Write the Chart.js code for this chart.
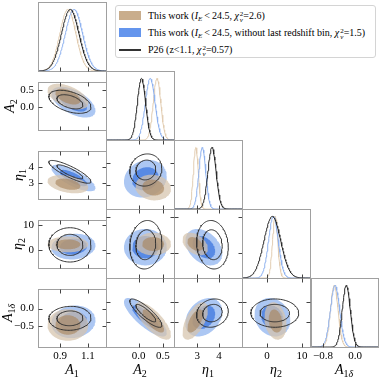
<!DOCTYPE html>
<html><head><meta charset="utf-8">
<script src="https://cdn.jsdelivr.net/npm/chart.js@4/dist/chart.umd.min.js"></script>
<style>
html,body{margin:0;padding:0;background:#fff;}
#wrap{position:relative;width:381px;height:380px;overflow:hidden;font-family:"Liberation Serif","Times New Roman",serif;color:#000;}
#wrap canvas{position:absolute;}
.lab{position:absolute;font-size:14px;white-space:nowrap;line-height:1;}
.lab i{font-style:italic;}
.lab sub{font-size:10px;vertical-align:-3px;line-height:0;}
.bt{transform:translate(-50%,-50%);}
.lt{transform:translate(-50%,-50%) rotate(-90deg);}
#leg{position:absolute;left:115px;top:5px;width:261px;height:53px;border:1px solid #d4d4d4;border-radius:3px;background:#fff;box-sizing:border-box;font-size:10px;}
#leg .row{position:absolute;left:0;height:14px;width:100%;}
#leg .sw{position:absolute;left:3px;top:2px;width:22px;height:9px;}
#leg .ln{position:absolute;left:3px;top:6px;width:22px;height:2px;background:#333;}
#leg .tx{position:absolute;left:32px;top:0;white-space:nowrap;line-height:14px;}
#leg sub{font-size:7px;vertical-align:-2px;line-height:0;}
.ss{display:inline-flex;flex-direction:column;vertical-align:middle;font-size:7px;line-height:6px;margin-left:1px;}
</style></head>
<body>
<div id="wrap">
  <div id="leg">
    <div class="row" style="top:3px"><span class="sw" style="background:#c9ad8c"></span><span class="tx">This work (<i>I</i><sub><i>E</i></sub>&thinsp;&lt;&thinsp;24.5, <i>χ</i><span class="ss"><span>2</span><span><i>ν</i></span></span>=2.6)</span></div>
    <div class="row" style="top:20px"><span class="sw" style="background:#6495ed"></span><span class="tx">This work (<i>I</i><sub><i>E</i></sub>&thinsp;&lt;&thinsp;24.5, without last redshift bin, <i>χ</i><span class="ss"><span>2</span><span><i>ν</i></span></span>=1.5)</span></div>
    <div class="row" style="top:37px"><span class="ln"></span><span class="tx">P26 (z&lt;1.1, <i>χ</i><span class="ss"><span>2</span><span><i>ν</i></span></span>=0.57)</span></div>
  </div>
</div>
<script>
// ---------------- data ----------------
// parameter order: A1, A2, eta1, eta2, A1delta
const paramLabels = ['<i>A</i><sub>1</sub>','<i>A</i><sub>2</sub>','<i>η</i><sub>1</sub>','<i>η</i><sub>2</sub>','<i>A</i><sub>1<i>δ</i></sub>'];
const axisMin = [0.74, -0.67, 1.92, -7.2, -1.1];
const axisMax = [1.23, 0.73, 5.07, 12.3, 0.57];
const xTickValues = [[0.9, 1.1], [0.0, 0.5], [3, 4], [0, 10], [-0.8, 0.0]];
const yTickValues = [[0.9, 1.1], [0.0, 0.5], [3, 4], [0, 10], [0.0, -0.5]];

// 1D marginals: peak position and width per parameter
const tanPeak   = [0.955, 0.38, 2.93, 2.3, -0.52];
const tanWidth  = [0.058, 0.078, 0.115, 0.75, 0.095];
const bluePeak  = [0.999, 0.24, 3.23, 1.8, -0.50];
const blueWidth = [0.062, 0.10, 0.16, 1.4, 0.115];
const blackPeak = [0.972, 0.06, 3.68, 1.5, -0.22];
const blackWidth= [0.063, 0.085, 0.19, 2.4, 0.10];

// 2D contours: centre, spread per parameter, correlation per pair
// pair order: (A1,A2) (A1,eta1) (A1,eta2) (A1,A1d) (A2,eta1) (A2,eta2) (A2,A1d) (eta1,eta2) (eta1,A1d) (eta2,A1d)
const tanCentre   = [0.955, 0.30, 2.90, 2.4, -0.47];
const tanSpread   = [0.060, 0.15, 0.24, 1.3, 0.185];
const tanCorr     = [-0.5, -0.35, 0.0, 0.0, -0.1, 0.0, -0.75, -0.4, 0.6, -0.2];
const blueCentre  = [0.995, 0.14, 3.30, 1.5, -0.38];
const blueSpread  = [0.065, 0.18, 0.35, 2.1, 0.19];
const blueCorr    = [-0.55, -0.75, 0.1, 0.1, 0.15, 0.0, -0.8, -0.35, 0.3, -0.15];
const blackCentre = [0.970, 0.15, 3.70, 2.2, -0.28];
const blackSpread = [0.062, 0.135, 0.30, 2.8, 0.14];
const blackCorr   = [-0.45, -0.85, 0.0, 0.05, 0.1, 0.1, -0.85, -0.1, 0.15, 0.0];

// ---------------- layout ----------------
const X0 = 38, Y0 = 2, PW = 68, PH = 69, LEFTW = 38, BOTH = 34;
const R68 = 1.509, R95 = 2.448;
const wrap = document.getElementById('wrap');

function tickText(v, p) {
  let s = (p === 2 || p === 3) ? String(Math.round(v)) : Math.abs(v).toFixed(1);
  if (v < -1e-9) s = '\u2212' + s;
  return s;
}
function pairIndex(a, b) {
  const pairs = [[0,1],[0,2],[0,3],[0,4],[1,2],[1,3],[1,4],[2,3],[2,4],[3,4]];
  return pairs.findIndex(q => q[0] === a && q[1] === b);
}
function ellipse(c, s, rho, xp, yp, r) {
  const pts = [];
  const N = 90;
  for (let k = 0; k <= N; k++) {
    const t = 2 * Math.PI * k / N;
    pts.push({x: c[xp] + r * s[xp] * Math.cos(t),
              y: c[yp] + r * s[yp] * (rho * Math.cos(t) + Math.sqrt(1 - rho * rho) * Math.sin(t))});
  }
  return pts;
}
function curve(p, peak, width) {
  const pts = [];
  const N = 160;
  for (let k = 0; k <= N; k++) {
    const x = axisMin[p] + (axisMax[p] - axisMin[p]) * k / N;
    pts.push({x, y: Math.exp(-0.5 * Math.pow((x - peak[p]) / width[p], 2))});
  }
  return pts;
}

const framePlugin = {
  id: 'frame',
  afterDraw(chart, args, opts) {
    const {ctx, chartArea: a, scales} = chart;
    ctx.save();
    const l = Math.round(a.left) + 0.5, t = Math.round(a.top) + 0.5;
    const r = Math.round(a.right) + 0.5, b = Math.round(a.bottom) + 0.5;
    ctx.strokeStyle = '#a0a0a0';
    ctx.lineWidth = 1;
    ctx.strokeRect(l, t, r - l, b - t);
    ctx.strokeStyle = '#444';
    ctx.beginPath();
    const L = 4;
    opts.xt.forEach(v => {
      const px = Math.round(scales.x.getPixelForValue(v)) + 0.5;
      ctx.moveTo(px, b); ctx.lineTo(px, b - L);
      if (!opts.diag) { ctx.moveTo(px, t); ctx.lineTo(px, t + L); }
    });
    if (!opts.diag) {
      opts.yt.forEach(v => {
        const py = Math.round(scales.y.getPixelForValue(v)) + 0.5;
        ctx.moveTo(l, py); ctx.lineTo(l + L, py);
        ctx.moveTo(r, py); ctx.lineTo(r - L, py);
      });
    }
    ctx.stroke();
    ctx.restore();
  }
};

const tickFont = {family: 'Liberation Serif', size: 11};

function makePanel(i, j) {
  const isLeft = (j === 0 && i > 0);
  const isBottom = (i === 4);
  const diag = (i === j);
  const w = (isLeft ? LEFTW : 0) + PW + 1;
  const h = PH + (isBottom ? BOTH : 1);
  const cv = document.createElement('canvas');
  cv.width = w; cv.height = h;
  cv.style.width = w + 'px'; cv.style.height = h + 'px';
  cv.style.left = (X0 + j * PW - (isLeft ? LEFTW : 0)) + 'px';
  cv.style.top = (Y0 + i * PH) + 'px';
  wrap.appendChild(cv);

  const xp = j, yp = i;
  const datasets = [];
  if (diag) {
    datasets.push({data: curve(xp, blackPeak, blackWidth), borderColor: '#2a2a2a', borderWidth: 1, order: 0});
    datasets.push({data: curve(xp, bluePeak, blueWidth), borderColor: '#8fb2ef', borderWidth: 1, order: 1});
    datasets.push({data: curve(xp, tanPeak, tanWidth), borderColor: '#e2cdb2', borderWidth: 1, order: 2});
  } else {
    const pi = pairIndex(xp, yp);
    datasets.push({data: ellipse(blackCentre, blackSpread, blackCorr[pi], xp, yp, R68), borderColor: '#333', borderWidth: 1, fill: false, order: 0});
    datasets.push({data: ellipse(blackCentre, blackSpread, blackCorr[pi], xp, yp, R95), borderColor: '#333', borderWidth: 1, fill: false, order: 1});
    datasets.push({data: ellipse(tanCentre, tanSpread, tanCorr[pi], xp, yp, R68), borderWidth: 0, borderColor: 'rgba(0,0,0,0)', backgroundColor: 'rgba(168,132,92,0.62)', fill: 'shape', order: 2});
    datasets.push({data: ellipse(tanCentre, tanSpread, tanCorr[pi], xp, yp, R95), borderWidth: 0, borderColor: 'rgba(0,0,0,0)', backgroundColor: 'rgba(214,196,172,0.72)', fill: 'shape', order: 3});
    datasets.push({data: ellipse(blueCentre, blueSpread, blueCorr[pi], xp, yp, R68), borderWidth: 0, borderColor: 'rgba(0,0,0,0)', backgroundColor: 'rgb(88,138,228)', fill: 'shape', order: 4});
    datasets.push({data: ellipse(blueCentre, blueSpread, blueCorr[pi], xp, yp, R95), borderWidth: 0, borderColor: 'rgba(0,0,0,0)', backgroundColor: 'rgb(172,199,243)', fill: 'shape', order: 5});
  }
  datasets.forEach(d => { d.showLine = true; d.pointRadius = 0; d.tension = 0; });

  const xScale = {
    type: 'linear', min: axisMin[xp], max: axisMax[xp], display: isBottom,
    grid: {display: false, drawTicks: false}, border: {display: false},
    afterBuildTicks: s => { s.ticks = xTickValues[xp].map(v => ({value: v})); },
    afterFit: s => { s.height = isBottom ? BOTH : 0; },
    ticks: {autoSkip: false, maxRotation: 0, padding: 3, color: '#000', font: tickFont, callback: v => tickText(v, xp)}
  };
  const yScale = diag ? {type: 'linear', min: 0, max: 1.12, display: false} : {
    type: 'linear', min: axisMin[yp], max: axisMax[yp], display: isLeft,
    grid: {display: false, drawTicks: false}, border: {display: false},
    afterBuildTicks: s => { s.ticks = yTickValues[yp].map(v => ({value: v})); },
    afterFit: s => { s.width = isLeft ? LEFTW : 0; },
    ticks: {autoSkip: false, padding: 4, color: '#000', font: tickFont, callback: v => tickText(v, yp)}
  };

  new Chart(cv, {
    type: 'scatter',
    data: {datasets},
    options: {
      responsive: false, maintainAspectRatio: false, animation: false, devicePixelRatio: 1, events: [],
      layout: {padding: {left: 0, top: 0, right: 1, bottom: isBottom ? 0 : 1}},
      scales: {x: xScale, y: yScale},
      plugins: {legend: {display: false}, tooltip: {enabled: false}, frame: {xt: xTickValues[xp], yt: diag ? [] : yTickValues[yp], diag}}
    },
    plugins: [framePlugin]
  });
}

for (let i = 0; i < 5; i++) for (let j = 0; j <= i; j++) makePanel(i, j);

// axis titles
const bottomY = 370;
for (let p = 0; p < 5; p++) {
  const d = document.createElement('div');
  d.className = 'lab bt';
  d.style.left = (X0 + p * PW + PW / 2) + 'px';
  d.style.top = bottomY + 'px';
  d.innerHTML = paramLabels[p];
  wrap.appendChild(d);
}
const leftX = [0, 10, 19, 18, 8];
for (let p = 1; p < 5; p++) {
  const d = document.createElement('div');
  d.className = 'lab lt';
  d.style.left = leftX[p] + 'px';
  d.style.top = (Y0 + p * PH + PH / 2) + 'px';
  d.innerHTML = paramLabels[p];
  wrap.appendChild(d);
}
</script>
</body></html>
